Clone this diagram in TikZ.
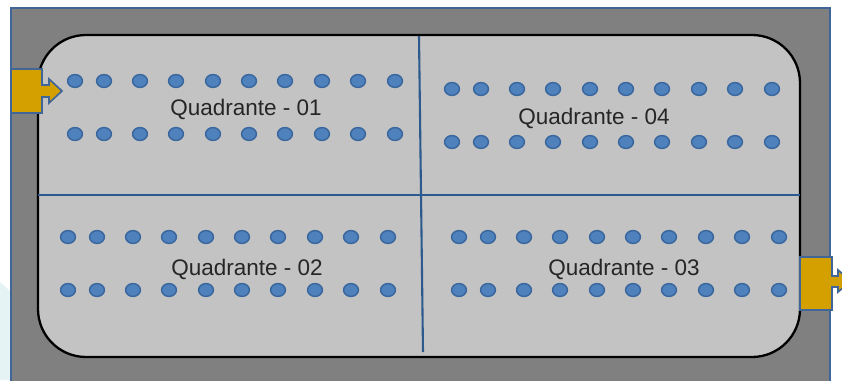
\documentclass[tikz,border=0pt]{standalone}
\usepackage{fontspec}
\setmainfont{Liberation Sans}
\definecolor{framegray}{HTML}{808080}
\definecolor{tankgray}{HTML}{C3C3C3}
\definecolor{edgeblue}{HTML}{3F6696}
\definecolor{lineblue}{HTML}{2C5A8E}
\definecolor{dotfill}{HTML}{4F81BD}
\definecolor{dotedge}{HTML}{3A679E}
\definecolor{portgold}{HTML}{D4A000}
\definecolor{paleback}{HTML}{E5F3F4}
\tikzset{
  frame/.style={fill=framegray, draw=edgeblue, line width=1.8pt},
  tank/.style={fill=tankgray, draw=black, line width=2.3pt, rounded corners=48pt},
  divider/.style={draw=lineblue, line width=2.1pt},
  port/.style={fill=portgold, draw=edgeblue, line width=1.7pt, line join=miter},
  nozzle/.style={fill=dotfill, draw=dotedge, line width=1.5pt},
  qlabel/.style={font=\fontsize{22.5}{26}\selectfont, text=black!85, inner sep=0pt, anchor=base}
}
% two rows of ten nozzles; #1 = first x, #2 = upper row y, #3 = lower row y
\newcommand{\nozzlerows}[3]{%
  \foreach \dx in {0,29,65,101,138,174,210,247,283,320}{
    \path[nozzle] (#1+\dx,#2) ellipse [x radius=7.4pt, y radius=6.4pt];
    \path[nozzle] (#1+\dx,#3) ellipse [x radius=7.4pt, y radius=6.4pt];
  }%
}
\begin{document}
\begin{tikzpicture}[x=1pt,y=-1pt]
\useasboundingbox (0,0) rectangle (842,380);
\begin{scope}
\clip (0,0) rectangle (842,380);
% page background
\fill[white] (0,0) rectangle (842,380);
\fill[paleback] (0,282) -- (11,292) -- (11,380) -- (0,380) -- cycle;
% outer frame
\path[frame] (11,8) rectangle (830,395);
% tank body
\path[tank] (38,35) rectangle (800,357);
% quadrant dividers
\path[divider] (38,195) -- (800,195);
\path[divider] (419,36) -- (423,352);
% nozzles
\nozzlerows{75}{81}{134}
\nozzlerows{452}{89}{142}
\nozzlerows{68}{237}{290}
\nozzlerows{459}{237}{290}
% quadrant labels
\node[qlabel] (q1) at (246,115) {Quadrante - 01};
\node[qlabel] (q4) at (594,124) {Quadrante - 04};
\node[qlabel] (q2) at (247,275) {Quadrante - 02};
\node[qlabel] (q3) at (624,275) {Quadrante - 03};
% inlet port
\path[port] (11,69) -- (42,69) -- (42,85) -- (49,85) -- (49,79) -- (62,91)
  -- (49,103) -- (49,97) -- (42,97) -- (42,113) -- (11,113) -- cycle;
% outlet port
\path[port] (800,257) -- (832,257) -- (832,276) -- (838,276) -- (838,270)
  -- (851,281) -- (838,292) -- (838,287) -- (832,287) -- (832,310)
  -- (800,310) -- cycle;
\end{scope}
\end{tikzpicture}
\end{document}
